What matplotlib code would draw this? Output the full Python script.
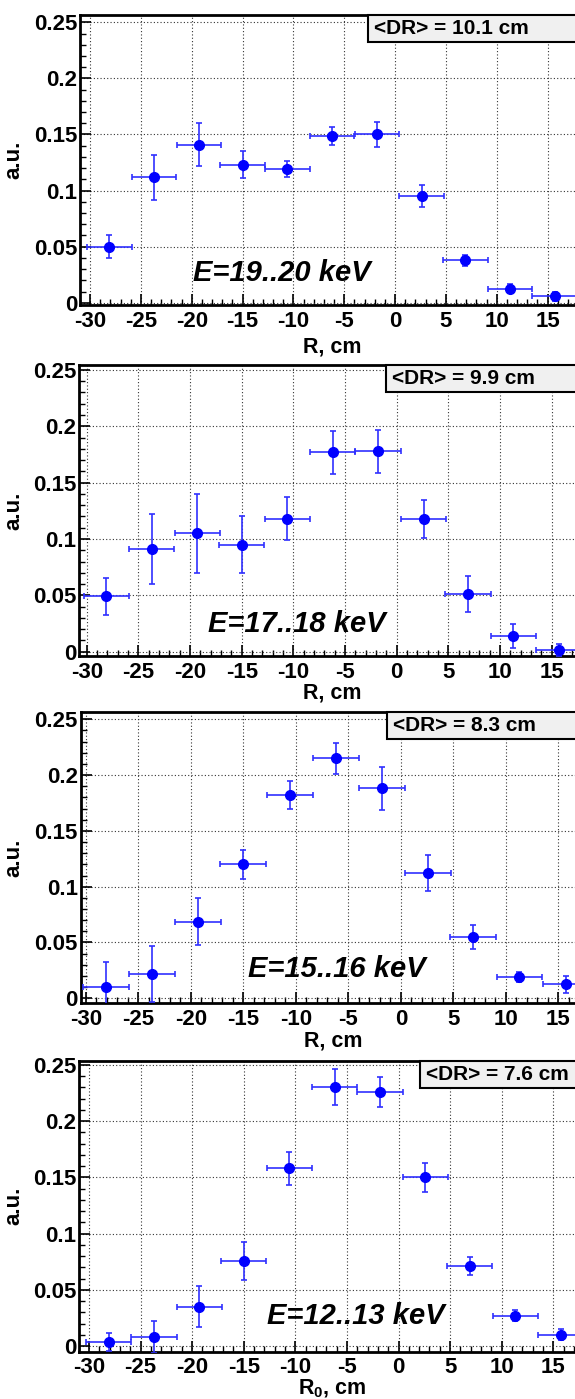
import matplotlib
matplotlib.use("Agg")
import matplotlib.pyplot as plt
from matplotlib.patches import Rectangle
from matplotlib.ticker import MultipleLocator, FuncFormatter

plt.rcParams['font.family'] = ['Liberation Sans', 'DejaVu Sans']
plt.rcParams['font.weight'] = 'bold'
plt.rcParams['axes.unicode_minus'] = False
plt.rcParams['mathtext.fontset'] = 'custom'
plt.rcParams['mathtext.rm'] = 'Liberation Sans:bold'
plt.rcParams['mathtext.bf'] = 'Liberation Sans:bold'
plt.rcParams['mathtext.it'] = 'Liberation Sans:bold:italic'

# bin centres along R (cm), half bin width
r_centers = [-28.1, -23.7, -19.3, -15.0, -10.6, -6.2, -1.8, 2.6, 6.9, 11.3, 15.7]
r_half = 2.19

y_19_20 = [0.050, 0.112, 0.141, 0.123, 0.119, 0.149, 0.150, 0.095, 0.038, 0.0125, 0.006]
e_19_20 = [0.010, 0.020, 0.019, 0.012, 0.007, 0.008, 0.011, 0.010, 0.005, 0.004, 0.004]
y_17_18 = [0.049, 0.091, 0.105, 0.095, 0.118, 0.177, 0.178, 0.118, 0.051, 0.014, 0.0015]
e_17_18 = [0.016, 0.031, 0.035, 0.025, 0.019, 0.019, 0.019, 0.017, 0.016, 0.011, 0.005]
y_15_16 = [0.0105, 0.0215, 0.0687, 0.120, 0.182, 0.215, 0.188, 0.112, 0.055, 0.0188, 0.0125]
e_15_16 = [0.022, 0.025, 0.021, 0.013, 0.0125, 0.014, 0.019, 0.016, 0.011, 0.0045, 0.0075]
y_12_13 = [0.004, 0.008, 0.035, 0.076, 0.158, 0.230, 0.226, 0.150, 0.071, 0.027, 0.010]
e_12_13 = [0.008, 0.014, 0.018, 0.017, 0.0145, 0.016, 0.013, 0.013, 0.008, 0.005, 0.005]

energy_labels = ["E=19..20 keV", "E=17..18 keV", "E=15..16 keV", "E=12..13 keV"]
dr_labels = ["<DR> = 10.1 cm", "<DR> = 9.9 cm", "<DR> = 8.3 cm", "<DR> = 7.6 cm"]
x_labels = ["R, cm", "R, cm", "R, cm", "R$_0$, cm"]
series = [(y_19_20, e_19_20), (y_17_18, e_17_18), (y_15_16, e_15_16), (y_12_13, e_12_13)]

W, H = 575, 1399
# pixel layout per panel: left, top, bottom, xlim, ylim, energy text centre,
# DR box left, x-label baseline
panels = [
    dict(left=80, top=15, bottom=305, xlim=(-31.0, 18.68), ylim=(-0.002, 0.2565),
         etext=(282, 273), box=367.7, lab=352),
    dict(left=79, top=365, bottom=656, xlim=(-30.75, 18.23), ylim=(-0.0038, 0.2544),
         etext=(297, 624), box=386, lab=699),
    dict(left=80.7, top=711.7, bottom=1003.3, xlim=(-30.5, 17.54), ylim=(-0.0045, 0.2568),
         etext=(337, 969), box=387, lab=1047),
    dict(left=78.8, top=1060.7, bottom=1351.7, xlim=(-30.98, 18.07), ylim=(-0.005, 0.2538),
         etext=(356, 1316), box=420, lab=1394),
]

fig = plt.figure(figsize=(W / 100, H / 100), dpi=100)
right_px = 585

for p, (yv, ev), elab, drlab, xlab in zip(panels, series, energy_labels, dr_labels, x_labels):
    ax = fig.add_axes([p['left'] / W, 1 - p['bottom'] / H,
                       (right_px - p['left']) / W, (p['bottom'] - p['top']) / H])
    ax.set_xlim(*p['xlim'])
    ax.set_ylim(*p['ylim'])
    ax.errorbar(r_centers, yv, xerr=r_half, yerr=ev, fmt='o', color='#0000ff',
                ecolor='#3030ff', elinewidth=1.2, capsize=2.5, capthick=1.2, ms=7,
                zorder=3)

    ax.xaxis.set_major_locator(MultipleLocator(5))
    ax.xaxis.set_minor_locator(MultipleLocator(1))
    ax.yaxis.set_major_locator(MultipleLocator(0.05))
    ax.yaxis.set_minor_locator(MultipleLocator(0.01))
    ax.yaxis.set_major_formatter(FuncFormatter(lambda v, _: '%g' % round(v, 3)))
    ax.tick_params(which='major', direction='in', length=8, width=1.2, labelsize=16)
    ax.tick_params(axis='x', which='major', pad=4)
    ax.tick_params(axis='y', which='major', pad=2)
    ax.tick_params(which='minor', direction='in', length=4, width=1)
    for lbl in ax.get_xticklabels() + ax.get_yticklabels():
        lbl.set_fontweight('bold')
    ax.grid(True, which='major', linestyle=(0, (1, 2)), color='#333333', linewidth=0.8)
    for s in ['left', 'bottom', 'top']:
        ax.spines[s].set_linewidth(2)
    ax.spines['right'].set_visible(False)

    ax.set_ylabel('a.u.', fontsize=16, fontweight='bold')
    ax.yaxis.set_label_coords(-(p['left'] - 24) / (right_px - p['left']), 0.5)

    fig.text((p['left'] + right_px) / 2 / W, 1 - p['lab'] / H, xlab, fontsize=15.5,
             fontweight='bold', ha='center', va='baseline')

    fig.text(p['etext'][0] / W, 1 - p['etext'][1] / H, elab, fontsize=21,
             fontweight='bold', style='italic', ha='center', va='center')

    bh = 27
    fig.add_artist(Rectangle((p['box'] / W, 1 - (p['top'] + bh) / H),
                             (W + 10 - p['box']) / W, bh / H,
                             transform=fig.transFigure, facecolor='#f0f0f0',
                             edgecolor='black', linewidth=1.5, zorder=5))
    fig.text((p['box'] + 6) / W, 1 - (p['top'] + bh / 2) / H, drlab, fontsize=15,
             fontweight='bold', ha='left', va='center', zorder=6)

fig.savefig('out.png', dpi=100)
